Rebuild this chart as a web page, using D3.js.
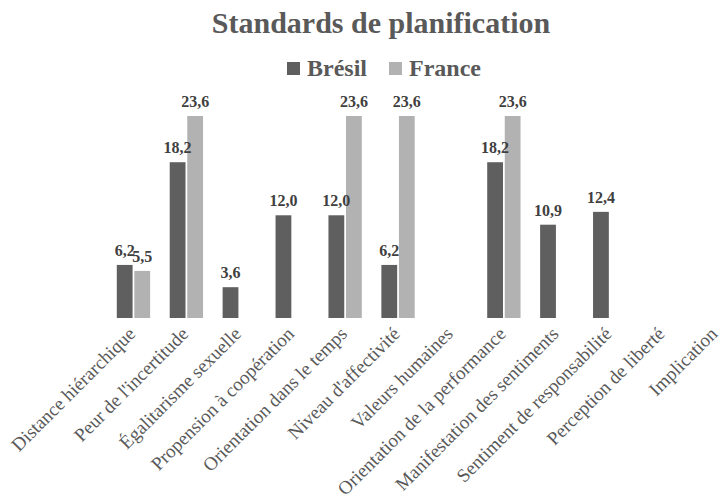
<!DOCTYPE html>
<html><head><meta charset="utf-8">
<script src="https://cdn.jsdelivr.net/npm/d3@7"></script>
<style>body{margin:0;background:#fff}svg{display:block}</style>
</head><body>
<svg id="c" width="720" height="501"></svg>
<script>
const categories = ["Distance hiérarchique","Peur de l'incertitude","Égalitarisme sexuelle","Propension à coopération","Orientation dans le temps","Niveau d'affectivité","Valeurs humaines","Orientation de la performance","Manifestation des sentiments","Sentiment de responsabilité","Perception de liberté","Implication"];
const seriesNames = ["Brésil","France"];
const bresil = [6.2,18.2,3.6,12.0,12.0,6.2,null,18.2,10.9,12.4,null,null];
const france = [5.5,23.6,null,null,23.6,23.6,null,23.6,null,null,null,null];
const colors = ["#5f5f5f","#b2b2b2"];

const svg = d3.select("#c");
const serif = "'Liberation Serif','Times New Roman',serif";
const x0 = d3.scaleBand().domain(categories).range([107,742]).paddingInner(0.37).paddingOuter(0.185);
const x1 = d3.scaleBand().domain(seriesNames).range([0,x0.bandwidth()]).paddingInner(0.1);
const y = d3.scaleLinear().domain([0,23.6]).range([318,116]);

const data = [bresil, france];
const fmt = v => v.toFixed(1).replace(".", ",");
const ptsBy = seriesNames.map((s,si)=>categories.map((c,i)=>({s, c, v:data[si][i]})).filter(d=>d.v!=null));

const barsG = svg.append("g");
const labelsG = svg.append("g");
seriesNames.forEach((s,si)=>{
  barsG.append("g").selectAll("rect").data(ptsBy[si]).join("rect")
    .attr("x", d=>x0(d.c)+x1(s)).attr("width", x1.bandwidth())
    .attr("y", d=>y(d.v)).attr("height", d=>y(0)-y(d.v))
    .attr("fill", colors[si]);
  labelsG.append("g").selectAll("text").data(ptsBy[si]).join("text")
    .attr("x", d=>x0(d.c)+x1(s)+x1.bandwidth()/2).attr("y", d=>y(d.v)-9)
    .attr("text-anchor","middle").attr("font-family",serif).attr("font-weight","bold")
    .attr("font-size","16px").attr("fill","#404040").text(d=>fmt(d.v));
});

// category axis labels
const xa = svg.append("g").attr("transform","translate(0,318)")
  .call(d3.axisBottom(x0).tickSize(0).tickPadding(0));
xa.select(".domain").remove();
xa.selectAll("text")
  .attr("font-family",serif).attr("font-size","19px").attr("fill","#595959")
  .attr("text-anchor","end").attr("dy",0)
  .attr("transform","translate(3,17) rotate(-45)");

// title
svg.append("text").attr("x",381).attr("y",33).attr("text-anchor","middle")
  .attr("font-family",serif).attr("font-weight","bold").attr("font-size","30px")
  .attr("fill","#595959").text("Standards de planification");

// legend
const leg = svg.append("g");
const lx = [287, 389];
seriesNames.forEach((s,i)=>{
  leg.append("rect").attr("x",lx[i]).attr("y",62).attr("width",13).attr("height",13).attr("fill",colors[i]);
  leg.append("text").attr("x",lx[i]+20).attr("y",76).attr("font-family",serif).attr("font-weight","bold")
    .attr("font-size","24px").attr("fill","#595959").text(s);
});
</script>
</body></html>
